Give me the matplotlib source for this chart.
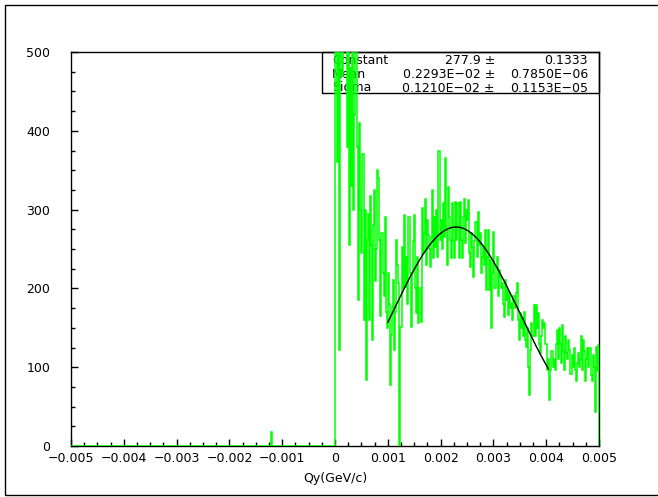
import numpy as np
import matplotlib
matplotlib.use("Agg")
import matplotlib.pyplot as plt
from matplotlib.patches import Rectangle
from matplotlib.ticker import MultipleLocator, FixedLocator

# histogram: 500 bins on [-0.005, 0.005]
x_min, x_max, n_bins = -0.005, 0.005, 500

# negative side is empty except one small spike near -0.0012
neg_counts = [0] * 189 + [18] + [0] * 60

# positive side (bin width 2e-5)
pos_counts = [
    620, 600, 360, 540, 122, 560, 650, 470, 700, 520,
    610, 380, 520, 255, 480, 330, 560, 300, 420, 600,
    540, 380, 185, 410, 300, 245, 370, 160, 300, 84,
    262, 295, 160, 317, 255, 134, 280, 325, 210, 250,
    350, 340, 262, 165, 270, 220, 190, 290, 170, 150,
    219, 180, 77, 141, 177, 211, 122, 170, 262, 230,
    207, 0, 151, 253, 200, 293, 202, 240, 180, 290,
    290, 220, 151, 219, 260, 293, 200, 169, 240, 156,
    200, 157, 302, 245, 270, 314, 230, 287, 268, 250,
    227, 265, 325, 238, 290, 253, 300, 240, 374, 261,
    287, 250, 308, 265, 365, 274, 230, 329, 290, 261,
    238, 308, 260, 238, 310, 262, 308, 238, 310, 261,
    238, 290, 314, 257, 300, 287, 312, 245, 227, 270,
    253, 215, 260, 284, 240, 297, 255, 270, 219, 240,
    253, 230, 274, 198, 240, 274, 198, 236, 150, 220,
    271, 200, 227, 240, 190, 223, 215, 200, 207, 180,
    164, 211, 185, 198, 166, 194, 175, 181, 160, 190,
    175, 194, 207, 160, 134, 169, 150, 164, 140, 170,
    134, 126, 150, 100, 65, 122, 156, 140, 179, 139,
    179, 150, 169, 130, 118, 139, 160, 150, 156, 130,
    130, 96, 110, 58, 96, 120, 100, 110, 96, 130,
    147, 110, 150, 130, 105, 154, 120, 96, 140, 118,
    111, 135, 122, 92, 115, 100, 125, 96, 83, 105,
    118, 100, 110, 139, 96, 135, 120, 83, 110, 125,
    100, 124, 90, 83, 115, 100, 43, 126, 95, 128,
]

# gaussian fit result
fit_const, fit_mean, fit_sigma = 277.9, 0.2293e-02, 0.1210e-02
fit_range = (0.001, 0.00404)
stat_names = ["Constant", "Mean", "Sigma"]
stat_values = ["277.9 \u00b1", "0.2293E\u221202 \u00b1", "0.1210E\u221202 \u00b1"]
stat_errors = ["0.1333", "0.7850E\u221206", "0.1153E\u221205"]

x_ticks = [-0.005, -0.004, -0.003, -0.002, -0.001, 0, 0.001, 0.002, 0.003, 0.004, 0.005]
x_ticklabels = ["\u22120.005", "\u22120.004", "\u22120.003", "\u22120.002", "\u22120.001",
                "0", "0.001", "0.002", "0.003", "0.004", "0.005"]
y_ticks = [0, 100, 200, 300, 400, 500]

counts = np.array(neg_counts + pos_counts, dtype=float)
edges = np.linspace(x_min, x_max, n_bins + 1)

W, H = 658, 497
fig = plt.figure(figsize=(W / 100, H / 100), dpi=100)
ax = fig.add_axes([71 / W, 1 - 446 / H, 528 / W, 394 / H])

ax.stairs(counts, edges, color="#00ff00", lw=1.1, zorder=3)

xf = np.linspace(fit_range[0], fit_range[1], 300)
yf = fit_const * np.exp(-0.5 * ((xf - fit_mean) / fit_sigma) ** 2)
ax.plot(xf, yf, color="black", lw=1.0, zorder=4)

ax.set_xlim(x_min, x_max)
ax.set_ylim(0, 500)

ax.xaxis.set_major_locator(FixedLocator(x_ticks))
ax.set_xticklabels(x_ticklabels)
ax.xaxis.set_minor_locator(MultipleLocator(0.00025))
ax.yaxis.set_major_locator(FixedLocator(y_ticks))
ax.yaxis.set_minor_locator(MultipleLocator(25))
ax.tick_params(which="both", direction="in", top=False, right=False, labelsize=9, width=1)
ax.tick_params(which="major", length=5)
ax.tick_params(which="minor", length=3)
ax.tick_params(axis="x", pad=4)
ax.tick_params(axis="y", pad=15)
for s in ax.spines.values():
    s.set_linewidth(1)

ax.set_xlabel("Qy(GeV/c)", fontsize=9, labelpad=5.5)

# stats box in the upper right
bx0 = (322 - 71) / 528
by0 = (446 - 93) / 394
ax.add_patch(Rectangle((bx0, by0), 1 - bx0, 1 - by0, transform=ax.transAxes,
                       fill=False, ec="black", lw=1, zorder=2, clip_on=False))
row_y = [(446 - 60) / 394, (446 - 74) / 394, (446 - 88) / 394]
for name, val, err, yy in zip(stat_names, stat_values, stat_errors, row_y):
    ax.text((332 - 71) / 528, yy, name, transform=ax.transAxes, fontsize=9,
            ha="left", va="center", zorder=2)
    ax.text((495 - 71) / 528, yy, val, transform=ax.transAxes, fontsize=9,
            ha="right", va="center", zorder=2)
    ax.text((588 - 71) / 528, yy, err, transform=ax.transAxes, fontsize=9,
            ha="right", va="center", zorder=2)

# outer frame of the picture
fig.patches.append(Rectangle((5 / W, 1 - 495 / H), 1.0, (495 - 5) / H,
                             transform=fig.transFigure, fill=False, ec="black", lw=1))

fig.savefig("out.png", dpi=100)
